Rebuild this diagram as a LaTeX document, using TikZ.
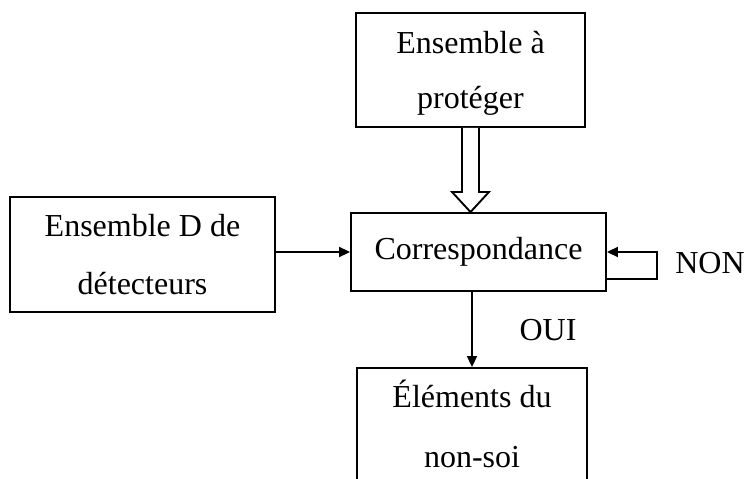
\documentclass[tikz,border=0pt]{standalone}
\usepackage{fontspec}
\setmainfont{Liberation Serif}
\usetikzlibrary{arrows.meta,calc}
\begin{document}
\begin{tikzpicture}[x=1pt,y=-1pt,
  box/.style={draw,line width=1.9pt,rectangle,align=center,inner sep=0pt,
    font=\fontsize{32}{55}\selectfont},
  lbl/.style={font=\fontsize{32}{38}\selectfont,inner sep=0pt},
  conn/.style={line width=1.9pt,-{Triangle[length=11pt,width=10pt]}},
  hollow/.style={draw,line width=1.9pt,fill=white,line join=miter}]
\useasboundingbox (0,0) rectangle (748,479);
\node[box,minimum width=229pt,minimum height=114pt,text depth=0pt] (top) at (470.5,70) {Ensemble à\\protéger};
\node[box,minimum width=265pt,minimum height=115pt,font=\fontsize{32}{58}\selectfont] (left) at (142.5,254.5) {Ensemble D de\\détecteurs};
\node[box,minimum width=255pt,minimum height=78pt] (corr) at (478.5,252) {Correspondance};
\node[box,minimum width=230pt,minimum height=122pt,font=\fontsize{32}{60}\selectfont,text depth=10pt] (bot) at (472,429) {Éléments du\\non-soi};
\node[lbl] (oui) at (548,330) {OUI};
\node[lbl] (non) at (710,263) {NON};
% hollow arrow
\draw[hollow] ($(top.south)+(-8.5,0)$) -- ($(top.south)+(-8.5,64)$) -- ($(top.south)+(-18.5,64)$)
  -- (top.south |- corr.north) -- ($(top.south)+(18.5,64)$) -- ($(top.south)+(8.5,64)$)
  -- ($(top.south)+(8.5,0)$);
% connectors
\draw[conn] (left.east |- corr.west) -- (corr.west);
\draw[conn] (bot.north |- corr.south) -- (bot.north);
\coordinate (l1) at ($(corr.south east)+(50,-13)$);
\draw[conn] ($(corr.south east)+(0,-13)$) -- (l1) -- (l1 |- corr.east) -- (corr.east);
\end{tikzpicture}
\end{document}
